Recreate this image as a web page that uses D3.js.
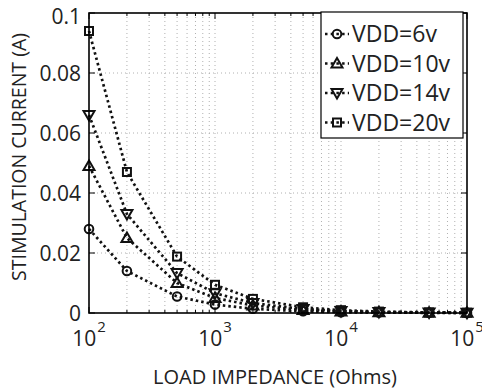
<!DOCTYPE html>
<html><head><meta charset="utf-8">
<script src="https://cdn.jsdelivr.net/npm/d3@7"></script>
<style>
html,body{margin:0;padding:0;background:#fff;}
svg{display:block;font-family:"Open Sans",sans-serif;}
</style></head>
<body><svg id="c" width="482" height="392"></svg>
<script>
const loads = [100, 200, 500, 1000, 2000, 5000, 10000, 20000, 50000, 100000];
const seriesNames = ["VDD=6v", "VDD=10v", "VDD=14v", "VDD=20v"];
const vdd6  = [0.028, 0.014, 0.0055, 0.0028, 0.0014, 0.00056, 0.00028, 0.00014, 0.000056, 0.000028];
const vdd10 = [0.049, 0.025, 0.0100, 0.0050, 0.0025, 0.0010, 0.0005, 0.00025, 0.0001, 0.00005];
const vdd14 = [0.066, 0.033, 0.0133, 0.0066, 0.0033, 0.0013, 0.00066, 0.00033, 0.00013, 0.000066];
const vdd20 = [0.094, 0.047, 0.0188, 0.0094, 0.0047, 0.0019, 0.00094, 0.00047, 0.00019, 0.000094];
const markers = ["circle", "triangleUp", "triangleDown", "square"];
const yTicks = [0, 0.02, 0.04, 0.06, 0.08, 0.1];
const yTickLabels = ["0", "0.02", "0.04", "0.06", "0.08", "0.1"];
const xMajor = [100, 1000, 10000, 100000];
const xExp = ["2", "3", "4", "5"];

const series = [vdd6, vdd10, vdd14, vdd20];
const svg = d3.select("#c");
const L = 89, T = 13, R = 467, B = 313;
const x = d3.scaleLog().domain([100, 100000]).range([L, R]);
const y = d3.scaleLinear().domain([0, 0.1]).range([B, T]);

const xAll = [];
for (let d = 100; d < 100000; d *= 10) for (let k = 1; k < 10; k++) xAll.push(d * k);
xAll.push(100000);

const g = svg.append("g");
// grid
g.selectAll(".vg").data(xAll.filter(v => v > 100 && v < 100000)).enter().append("line")
  .attr("x1", d => x(d)).attr("x2", d => x(d)).attr("y1", T).attr("y2", B)
  .attr("stroke", "#b0b0b0").attr("stroke-width", 1).attr("stroke-dasharray", "1,3");
g.selectAll(".hg").data(yTicks.filter(v => v > 0 && v < 0.1)).enter().append("line")
  .attr("x1", L).attr("x2", R).attr("y1", d => y(d)).attr("y2", d => y(d))
  .attr("stroke", "#b0b0b0").attr("stroke-width", 1).attr("stroke-dasharray", "1,3");

// ticks (inward, all four sides)
const tk = g.append("g").attr("stroke", "#000").attr("stroke-width", 1);
xAll.forEach(v => {
  const len = xMajor.includes(v) ? 6 : 3;
  tk.append("line").attr("x1", x(v)).attr("x2", x(v)).attr("y1", B).attr("y2", B - len);
  tk.append("line").attr("x1", x(v)).attr("x2", x(v)).attr("y1", T).attr("y2", T + len);
});
yTicks.forEach(v => {
  tk.append("line").attr("x1", L).attr("x2", L + 6).attr("y1", y(v)).attr("y2", y(v));
  tk.append("line").attr("x1", R).attr("x2", R - 6).attr("y1", y(v)).attr("y2", y(v));
});

// data lines
const line = d3.line().x((d, i) => x(loads[i])).y(d => y(d));
series.forEach(s => {
  g.append("path").attr("d", line(s)).attr("fill", "none").attr("stroke", "#111")
    .attr("stroke-width", 2.7).attr("stroke-dasharray", "2.5,3");
});

function drawMarker(sel, type, cx, cy) {
  let el;
  if (type === "circle") el = sel.append("circle").attr("cx", cx).attr("cy", cy).attr("r", 4.3);
  else if (type === "square") el = sel.append("rect").attr("x", cx - 4).attr("y", cy - 4).attr("width", 8).attr("height", 8);
  else if (type === "triangleUp") el = sel.append("path").attr("d", `M${cx},${cy - 5.5}L${cx + 5.5},${cy + 4}L${cx - 5.5},${cy + 4}Z`);
  else el = sel.append("path").attr("d", `M${cx},${cy + 5.5}L${cx + 5.5},${cy - 4}L${cx - 5.5},${cy - 4}Z`);
  el.attr("fill", "none").attr("stroke", "#111").attr("stroke-width", 2);
}
series.forEach((s, si) => {
  s.forEach((v, i) => drawMarker(g, markers[si], x(loads[i]), y(v)));
});

// frame
g.append("rect").attr("x", L).attr("y", T).attr("width", R - L).attr("height", B - T)
  .attr("fill", "none").attr("stroke", "#000").attr("stroke-width", 1.6);

// y tick labels (top label nudged down to stay inside the figure)
g.selectAll(".yl").data(yTicks).enter().append("text")
  .attr("x", L - 8).attr("y", d => y(d) + (d === 0.1 ? 3 : 0)).attr("dy", "0.36em")
  .attr("text-anchor", "end").attr("font-size", 21).attr("fill", "#222")
  .text((d, i) => yTickLabels[i]);

// x tick labels 10^n
xMajor.forEach((v, i) => {
  const t = g.append("text").attr("x", x(v)).attr("y", 346).attr("text-anchor", "middle")
    .attr("font-size", 21).attr("fill", "#222");
  t.append("tspan").text("10");
  t.append("tspan").attr("dy", -14).attr("dx", 1).attr("font-size", 15).text(xExp[i]);
});

// axis titles
g.append("text").attr("x", 275).attr("y", 384).attr("text-anchor", "middle")
  .attr("font-size", 20).attr("fill", "#222").text("LOAD IMPEDANCE (Ohms)");
g.append("text").attr("transform", "translate(26,157) rotate(-90)").attr("text-anchor", "middle")
  .attr("font-size", 19.5).attr("fill", "#222").text("STIMULATION CURRENT (A)");

// legend
const lg = g.append("g");
lg.append("rect").attr("x", 321).attr("y", 12).attr("width", 142).attr("height", 126)
  .attr("fill", "#fff").attr("stroke", "#000").attr("stroke-width", 1.2);
const ly = [34, 63.5, 93, 122.5];
seriesNames.forEach((n, i) => {
  lg.append("line").attr("x1", 325).attr("x2", 349).attr("y1", ly[i]).attr("y2", ly[i])
    .attr("stroke", "#111").attr("stroke-width", 2.6).attr("stroke-dasharray", "2.5,3.2");
  drawMarker(lg, markers[i], 337, ly[i]);
  lg.append("text").attr("x", 352).attr("y", ly[i]).attr("dy", "0.36em")
    .attr("font-size", 23).attr("fill", "#222").text(n);
});
</script></body></html>
